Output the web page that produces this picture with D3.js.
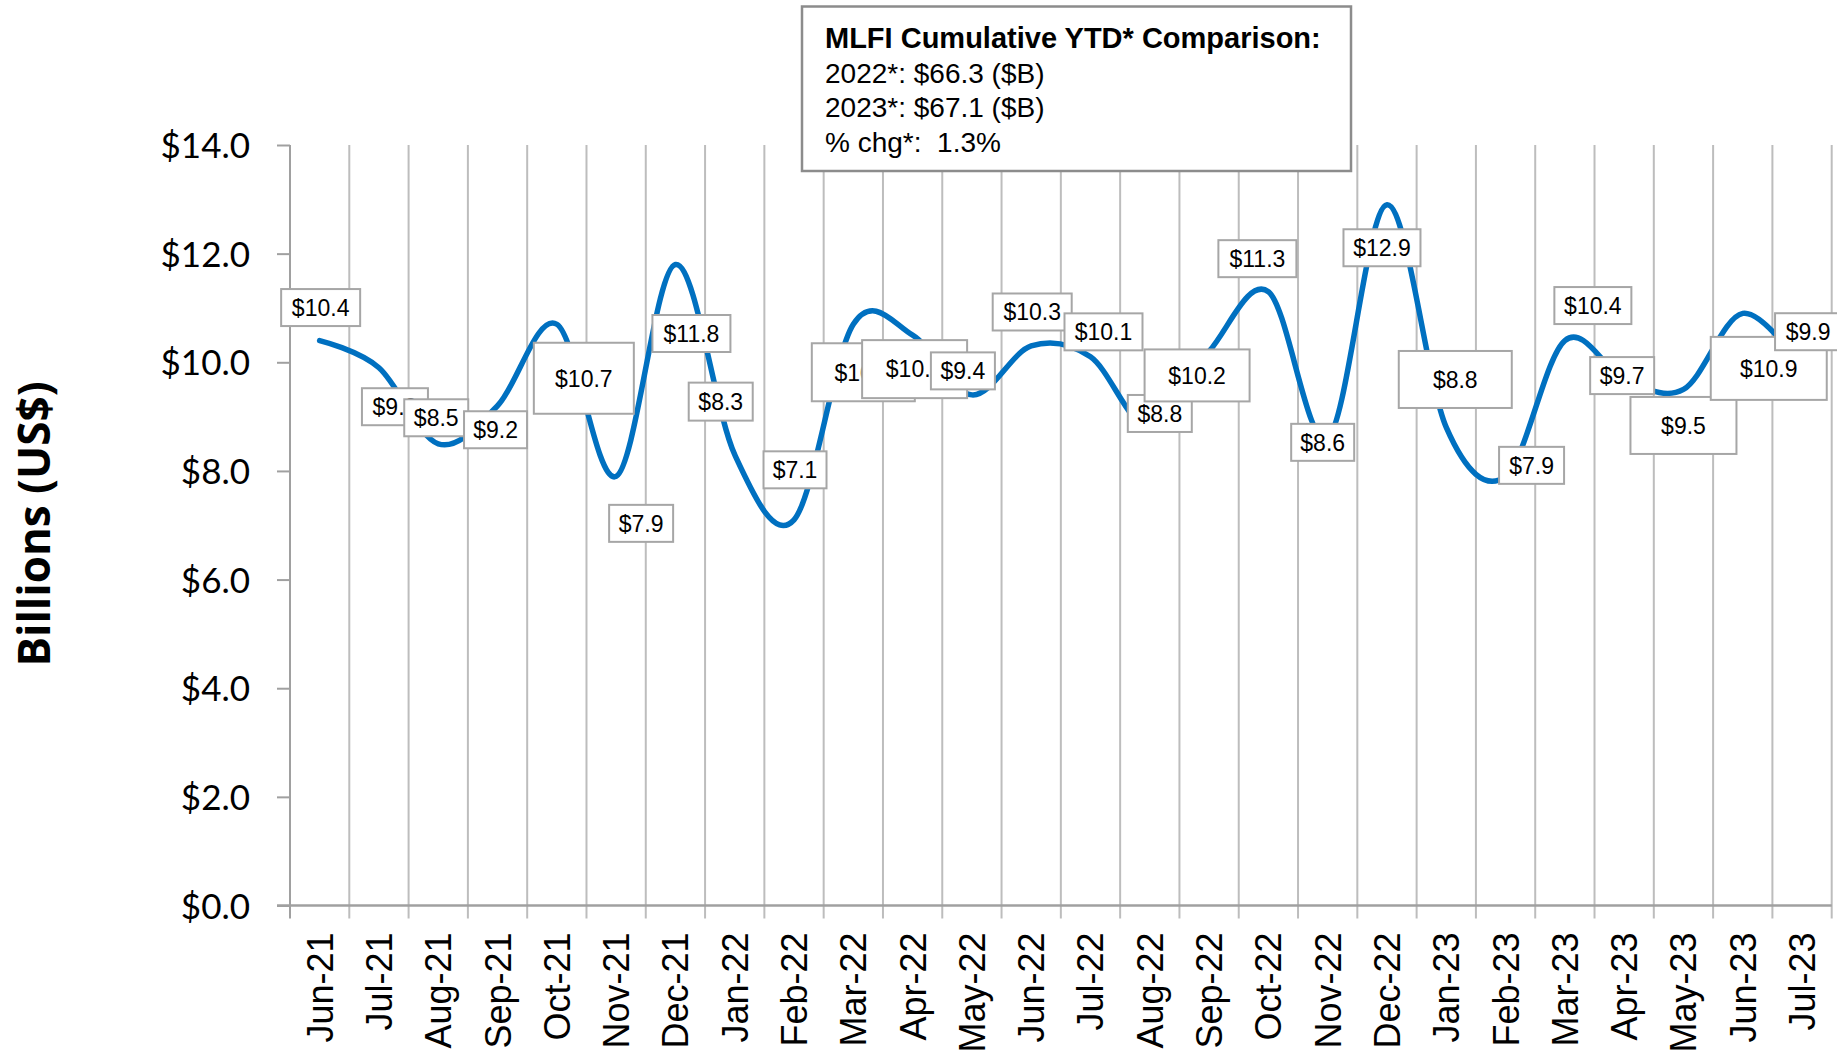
<!DOCTYPE html>
<html>
<head>
<meta charset="utf-8">
<script src="https://cdn.jsdelivr.net/npm/d3@7"></script>
<style>
  body { margin: 0; background: #fff; }
  svg { display: block; }
  .tick-y text { font-family: Lato, "Open Sans", sans-serif; font-size: 35px; fill: #000; }
  .month { font-family: "Liberation Sans", Arial, sans-serif; font-size: 36px; fill: #000; }
  .dlabel text { font-family: "Liberation Sans", Arial, sans-serif; font-size: 23px; fill: #000; }
  .note text { font-family: "Liberation Sans", Arial, sans-serif; font-size: 28px; fill: #000; white-space: pre; }
</style>
</head>
<body>
<svg id="chart" width="1837" height="1058"></svg>
<script>
// monthly MLFI volume, billions US$
var months = ["Jun-21", "Jul-21", "Aug-21", "Sep-21", "Oct-21", "Nov-21", "Dec-21",
  "Jan-22", "Feb-22", "Mar-22", "Apr-22", "May-22", "Jun-22", "Jul-22", "Aug-22",
  "Sep-22", "Oct-22", "Nov-22", "Dec-22", "Jan-23", "Feb-23", "Mar-23", "Apr-23",
  "May-23", "Jun-23", "Jul-23"];
var volume = [10.4, 9.9, 8.5, 9.2, 10.7, 7.9, 11.8, 8.3, 7.1, 10.7, 10.5, 9.4, 10.3,
  10.1, 8.8, 10.2, 11.3, 8.6, 12.9, 8.8, 7.9, 10.4, 9.7, 9.5, 10.9, 9.9];
var yTicks = [0, 2, 4, 6, 8, 10, 12, 14];
var noteTitle = "MLFI Cumulative YTD* Comparison:";
var noteLines = ["2022*: $66.3 ($B)", "2023*: $67.1 ($B)", "% chg*:  1.3%"];

// hand placed data label boxes: offset from the point, then box size (px)
var labelBox = [
  [1, -33, 79, 37], [16, 39, 66, 37], [-2, -26, 64, 37], [-2, 24, 63, 37],
  [27, 54, 100, 71], [25, 47, 64, 37], [16, 69, 78, 37], [-14, -53, 64, 38],
  [1, -50, 63, 37], [10, 48, 103, 58], [2, 34, 105, 58], [-9, -24, 64, 37],
  [1, -34, 79, 37], [13, -25, 78, 37], [10, -14, 64, 37], [-12, 24, 105, 52],
  [-11, -33, 78, 37], [-5, 4, 63, 37], [-5, 43, 77, 37], [9, -48, 113, 57],
  [26, -11, 65, 37], [28, -35, 77, 37], [-2, -3, 64, 37], [0, 36, 106, 57],
  [26, 55, 116, 63], [6, -36, 66, 37]
];

var svg = d3.select("#chart");
var plotL = 290, plotR = 1831.7, plotT = 145, plotB = 905.5;

var x = d3.scaleBand().domain(months).range([plotL, plotR]).padding(0);
var y = d3.scaleLinear().domain([0, 14]).range([plotB, plotT]);
var cx = function(d) { return x(d) + x.bandwidth() / 2; };

// vertical gridlines on the band edges, running down into tick marks
var edges = months.map(function(d) { return x(d) + x.bandwidth(); });
svg.append("g").selectAll("line").data(edges).enter().append("line")
  .attr("x1", function(d) { return d; }).attr("x2", function(d) { return d; })
  .attr("y1", plotT).attr("y2", plotB + 13)
  .attr("stroke", "#bdbdbd").attr("stroke-width", 2);

// y axis
var yAxis = svg.append("g").attr("class", "tick-y")
  .attr("transform", "translate(" + plotL + ",0)")
  .call(d3.axisLeft(y).tickValues(yTicks).tickSize(13).tickPadding(27)
    .tickFormat(function(d) { return "$" + d.toFixed(1); }));
yAxis.select(".domain").remove();
yAxis.selectAll("line").attr("stroke", "#a0a0a0").attr("stroke-width", 2);
yAxis.selectAll("text").attr("dy", "0.36em");
svg.append("line")
  .attr("x1", plotL).attr("x2", plotL).attr("y1", plotT).attr("y2", plotB + 13)
  .attr("stroke", "#a0a0a0").attr("stroke-width", 2);

// x axis baseline
svg.append("line")
  .attr("x1", plotL - 13).attr("x2", plotR).attr("y1", y(0)).attr("y2", y(0))
  .attr("stroke", "#a0a0a0").attr("stroke-width", 2.5);

svg.append("g").selectAll("text").data(months).enter().append("text")
  .attr("class", "month")
  .attr("text-anchor", "end")
  .attr("transform", function(d) { return "translate(" + (cx(d) + 13) + "," + (plotB + 27) + ") rotate(-90)"; })
  .text(function(d) { return d; });

svg.append("text")
  .attr("transform", "translate(50,524) rotate(-90)")
  .attr("text-anchor", "middle")
  .style("font-family", "'Open Sans', sans-serif")
  .style("font-weight", "bold")
  .style("font-size", "44px")
  .text("Billions (US$)");

// smoothed line
var line = d3.line()
  .x(function(d, i) { return cx(months[i]); })
  .y(function(d) { return y(d); })
  .curve(d3.curveCatmullRom.alpha(0));

svg.append("path").datum(volume)
  .attr("d", line)
  .attr("fill", "none")
  .attr("stroke", "#0070c0")
  .attr("stroke-width", 5.5)
  .attr("stroke-linecap", "round");

// data labels
var lab = svg.append("g").selectAll("g").data(volume).enter().append("g")
  .attr("class", "dlabel")
  .attr("transform", function(d, i) {
    return "translate(" + (cx(months[i]) + labelBox[i][0]) + "," + (y(d) + labelBox[i][1]) + ")";
  });
lab.append("rect")
  .attr("x", function(d, i) { return -labelBox[i][2] / 2; })
  .attr("y", function(d, i) { return -labelBox[i][3] / 2; })
  .attr("width", function(d, i) { return labelBox[i][2]; })
  .attr("height", function(d, i) { return labelBox[i][3]; })
  .attr("fill", "#fff").attr("stroke", "#a6a6a6").attr("stroke-width", 2);
lab.append("text")
  .attr("text-anchor", "middle")
  .attr("dy", "0.36em")
  .text(function(d) { return "$" + d.toFixed(1); });

// YTD note box
var note = svg.append("g").attr("class", "note");
note.append("rect")
  .attr("x", 802).attr("y", 6.5).attr("width", 549).attr("height", 164.5)
  .attr("fill", "#fff").attr("stroke", "#8c8c8c").attr("stroke-width", 2.5);
note.append("text").attr("x", 825).attr("y", 47.5)
  .style("font-weight", "bold").style("font-size", "29px")
  .text(noteTitle);
note.selectAll("text.ln").data(noteLines).enter().append("text")
  .attr("class", "ln")
  .attr("x", 825)
  .attr("y", function(d, i) { return 82.5 + i * 34.7; })
  .text(function(d) { return d; });
</script>
</body>
</html>
